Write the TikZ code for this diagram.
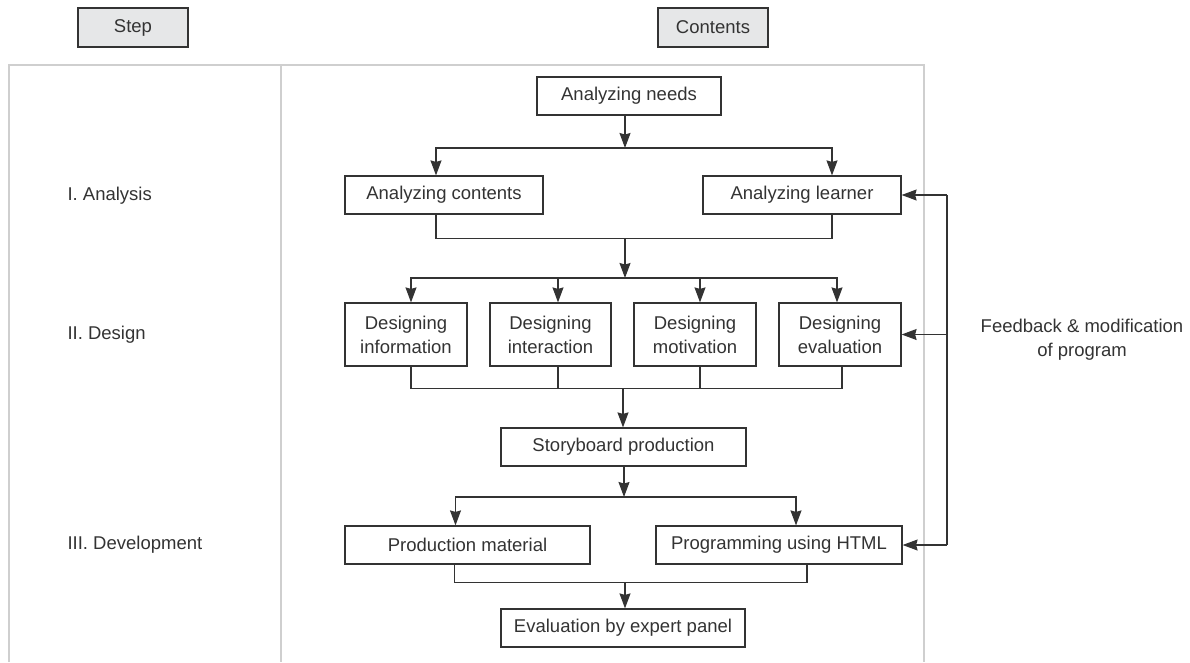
\documentclass[tikz,border=0pt]{standalone}
\usepackage{fontspec}
\setmainfont{Liberation Sans}
\usetikzlibrary{arrows.meta}
\definecolor{ink}{HTML}{333333}
\definecolor{framec}{HTML}{CFCFCF}
\definecolor{headfill}{HTML}{E6E7E8}
\begin{document}
\begin{tikzpicture}[x=1pt,y=-1pt,
  txt/.style={font=\fontsize{18.5}{24}\selectfont, text=ink},
  box/.style={txt, draw=ink, line width=1.2pt, fill=white, inner sep=0pt, minimum height=38pt, align=center},
  headbox/.style={box, fill=headfill, minimum width=110pt, minimum height=39pt},
  ln/.style={draw=ink, line width=1.2pt},
  arr/.style={ln, -{Stealth[length=15pt,width=11pt,inset=1.5pt]}},
  framel/.style={draw=framec, line width=1.6pt}
]
\useasboundingbox (0,0) rectangle (1190,662);

% header boxes
\node[headbox] (step) at (133,27.5) {Step};
\node[headbox] (cont) at (713,27.5) {Contents};

% frame
\draw[framel] (9,662) -- (9,65) -- (924,65) -- (924,662);
\draw[framel] (281,65) -- (281,662);

% step labels
\node[txt, anchor=west] (s1) at (64,196) {I. Analysis};
\node[txt, anchor=west] (s2) at (64,335) {II. Design};
\node[txt, anchor=west] (s3) at (64,545) {III. Development};

% boxes
\node[box, minimum width=184pt] (needs) at (629,96) {Analyzing needs};
\node[box, minimum width=198pt] (ac) at (444,195) {Analyzing contents};
\node[box, minimum width=198pt] (al) at (802,195) {Analyzing learner};
\node[box, minimum width=122pt, minimum height=63pt] (d1) at (406,334.5) {Designing\\information};
\node[box, minimum width=121pt, minimum height=63pt] (d2) at (550.5,334.5) {Designing\\interaction};
\node[box, minimum width=122pt, minimum height=63pt] (d3) at (695,334.5) {Designing\\motivation};
\node[box, minimum width=122pt, minimum height=63pt] (d4) at (840,334.5) {Designing\\evaluation};
\node[box, minimum width=245pt] (story) at (623.5,447) {Storyboard production};
\node[box, minimum width=245pt] (prod) at (467.5,545) {Production material};
\node[box, minimum width=246pt] (prog) at (779,545) {Programming using HTML};
\node[box, minimum width=244pt] (eval) at (623,628) {Evaluation by expert panel};

% feedback label
\node[txt, align=center] (fb) at (1082,340) {Feedback \& modification\\of program};

% junctions
\coordinate (j1) at (625,148);
\coordinate (j2) at (625,238);
\coordinate (j3) at (625,278);
\coordinate (j4) at (623,388);
\coordinate (j5) at (624,497);
\coordinate (j6) at (625,582);
\coordinate (fbt) at (947,195);
\coordinate (fbb) at (947,545);

% analysis
\draw[arr] (needs.south -| j1) -- (j1);
\draw[arr] (j1) -| ([xshift=-8pt]ac.north);
\draw[arr] (j1) -| ([xshift=30pt]al.north);
\draw[ln] ([xshift=-8pt]ac.south) -- ++(0,24) -| ([xshift=30pt]al.south);
\draw[arr] (j2) -- (j3);

% design
\draw[arr] (j3) -| ([xshift=5pt]d1.north);
\draw[arr] (j3) -| ([xshift=7.5pt]d2.north);
\draw[arr] (j3) -| ([xshift=5pt]d3.north);
\draw[arr] (j3) -| ([xshift=-3pt]d4.north);
\draw[ln] ([xshift=5pt]d1.south) -- ++(0,22) -| ([xshift=2pt]d4.south);
\draw[ln] ([xshift=7.5pt]d2.south) -- ++(0,22);
\draw[ln] ([xshift=5pt]d3.south) -- ++(0,22);
\draw[arr] (j4) -- (story.north -| j4);

% development
\draw[arr] (story.south -| j5) -- (j5);
\draw[arr] (j5) -| ([xshift=-12pt]prod.north);
\draw[arr] (j5) -| ([xshift=17pt]prog.north);
\draw[ln] ([xshift=-13pt]prod.south) -- ++(0,18) -| ([xshift=28pt]prog.south);
\draw[arr] (j6) -- (eval.north -| j6);

% feedback
\draw[ln] (fbt) -- (fbb);
\draw[arr] (fbt) -- (al.east);
\draw[arr] (d4.east -| fbt) -- (d4.east);
\draw[arr] (fbb) -- (prog.east);
\end{tikzpicture}
\end{document}
